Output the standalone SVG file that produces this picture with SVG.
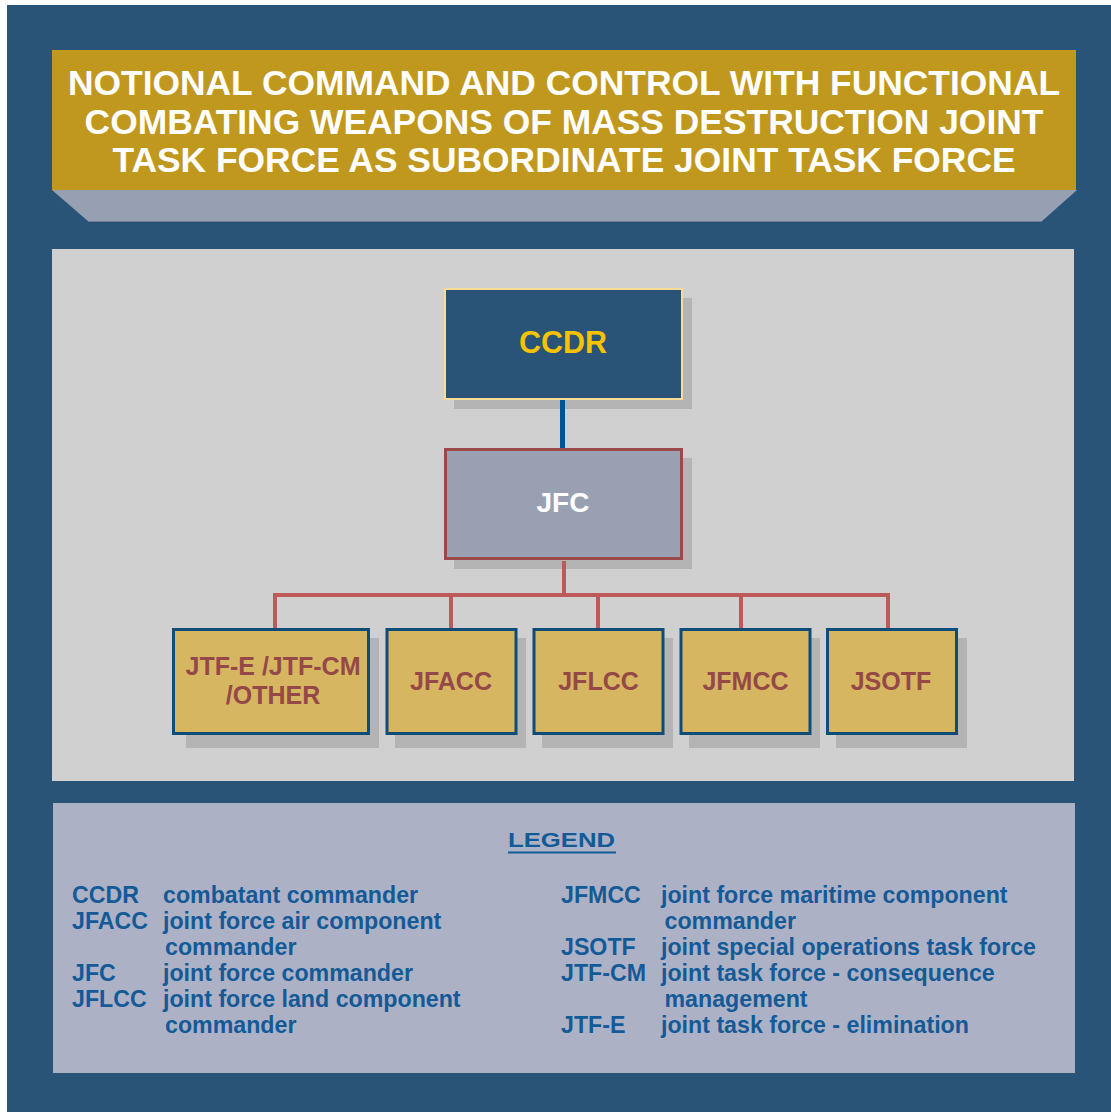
<svg xmlns="http://www.w3.org/2000/svg" width="1111" height="1112" viewBox="0 0 1111 1112">
<defs>
<style>
text{font-family:"Liberation Sans",Arial,sans-serif;font-weight:bold}
.title{fill:#FFFFFF;font-size:35.4px;text-anchor:middle}
.shadow{fill:#B4B4B4}
.child{fill:#D6B660;stroke:#0F4C78;stroke-width:3}
.ctext{fill:#954848;font-size:25px;text-anchor:middle}
.red{stroke:#BC5A5A;stroke-width:4;fill:none}
.leg{fill:#135A97;font-size:23.2px}
</style>
</defs>
<rect x="0" y="0" width="1111" height="1112" fill="#FFFFFF"/>
<rect x="7" y="5" width="1104" height="1107" fill="#295377"/>
<g id="title">
<polygon points="52,190 1077,190 1041,222 89,222" fill="#979FB2"/>
<line x1="89" y1="221.5" x2="1041" y2="221.5" stroke="#6F7C94" stroke-width="1"/>
<rect x="52" y="50" width="1024" height="140" fill="#C1981E"/>
<text class="title" x="564" y="95">NOTIONAL COMMAND AND CONTROL WITH FUNCTIONAL</text>
<text class="title" x="564" y="134">COMBATING WEAPONS OF MASS DESTRUCTION JOINT</text>
<text class="title" x="564" y="172">TASK FORCE AS SUBORDINATE JOINT TASK FORCE</text>
</g>
<rect id="chart-panel" x="52" y="249" width="1022" height="532" fill="#D0D0D0"/>
<g id="ccdr">
<rect class="shadow" x="454" y="298" width="238" height="111"/>
<rect x="445" y="289" width="237" height="110" fill="#295377" stroke="#F9DC96" stroke-width="2"/>
<text x="563" y="353" fill="#F7C200" font-size="30.5" text-anchor="middle">CCDR</text>
</g>
<g id="jfc">
<rect class="shadow" x="454" y="458" width="238" height="111"/>
<rect x="445.5" y="449.5" width="236" height="109" fill="#98A0B2" stroke="#9B4A4A" stroke-width="3"/>
<text x="563" y="512" fill="#FFFFFF" font-size="28" text-anchor="middle">JFC</text>
</g>
<g id="jtf">
<rect class="shadow" x="186" y="638" width="193" height="110"/>
<rect class="child" x="173.5" y="629.5" width="195" height="104"/>
<text class="ctext" x="273" y="675">JTF-E /JTF-CM</text>
<text class="ctext" x="273" y="704">/OTHER</text>
</g>
<g id="jfacc">
<rect class="shadow" x="395" y="638" width="131" height="110"/>
<rect class="child" x="387" y="629.5" width="129" height="104"/>
<text class="ctext" x="451" y="690">JFACC</text>
</g>
<g id="jflcc">
<rect class="shadow" x="542" y="638" width="131" height="110"/>
<rect class="child" x="534" y="629.5" width="129" height="104"/>
<text class="ctext" x="598.5" y="690">JFLCC</text>
</g>
<g id="jfmcc">
<rect class="shadow" x="689" y="638" width="131" height="110"/>
<rect class="child" x="681" y="629.5" width="129" height="104"/>
<text class="ctext" x="745.5" y="690">JFMCC</text>
</g>
<g id="jsotf">
<rect class="shadow" x="836" y="638" width="131" height="110"/>
<rect class="child" x="827.5" y="629.5" width="129" height="104"/>
<text class="ctext" x="891" y="690">JSOTF</text>
</g>
<g id="connectors">
<line x1="562.5" y1="400" x2="562.5" y2="448" stroke="#00558F" stroke-width="5"/>
<line class="red" x1="564" y1="561" x2="564" y2="595"/>
<polyline class="red" points="275,628 275,595 888,595 888,628"/>
<line class="red" x1="451" y1="595" x2="451" y2="628"/>
<line class="red" x1="598" y1="595" x2="598" y2="628"/>
<line class="red" x1="741" y1="595" x2="741" y2="628"/>
</g>
<g id="legend">
<rect x="53" y="803" width="1022" height="270" fill="#ADB1C6"/>
<text x="508" y="847" fill="#135A97" font-size="21" textLength="107" lengthAdjust="spacingAndGlyphs">LEGEND</text>
<line x1="508" y1="852.5" x2="616" y2="852.5" stroke="#135A97" stroke-width="2"/>
<text class="leg" x="72" y="903">CCDR</text>
<text class="leg" x="163" y="903">combatant commander</text>
<text class="leg" x="72" y="929">JFACC</text>
<text class="leg" x="163" y="929">joint force air component</text>
<text class="leg" x="165" y="955">commander</text>
<text class="leg" x="72" y="981">JFC</text>
<text class="leg" x="163" y="981">joint force commander</text>
<text class="leg" x="72" y="1007">JFLCC</text>
<text class="leg" x="163" y="1007">joint force land component</text>
<text class="leg" x="165" y="1033">commander</text>
<text class="leg" x="561" y="903">JFMCC</text>
<text class="leg" x="661" y="903">joint force maritime component</text>
<text class="leg" x="664.5" y="929">commander</text>
<text class="leg" x="561" y="955">JSOTF</text>
<text class="leg" x="661" y="955">joint special operations task force</text>
<text class="leg" x="561" y="981">JTF-CM</text>
<text class="leg" x="661" y="981">joint task force - consequence</text>
<text class="leg" x="664.5" y="1007">management</text>
<text class="leg" x="561" y="1033">JTF-E</text>
<text class="leg" x="661" y="1033">joint task force - elimination</text>
</g>
</svg>
